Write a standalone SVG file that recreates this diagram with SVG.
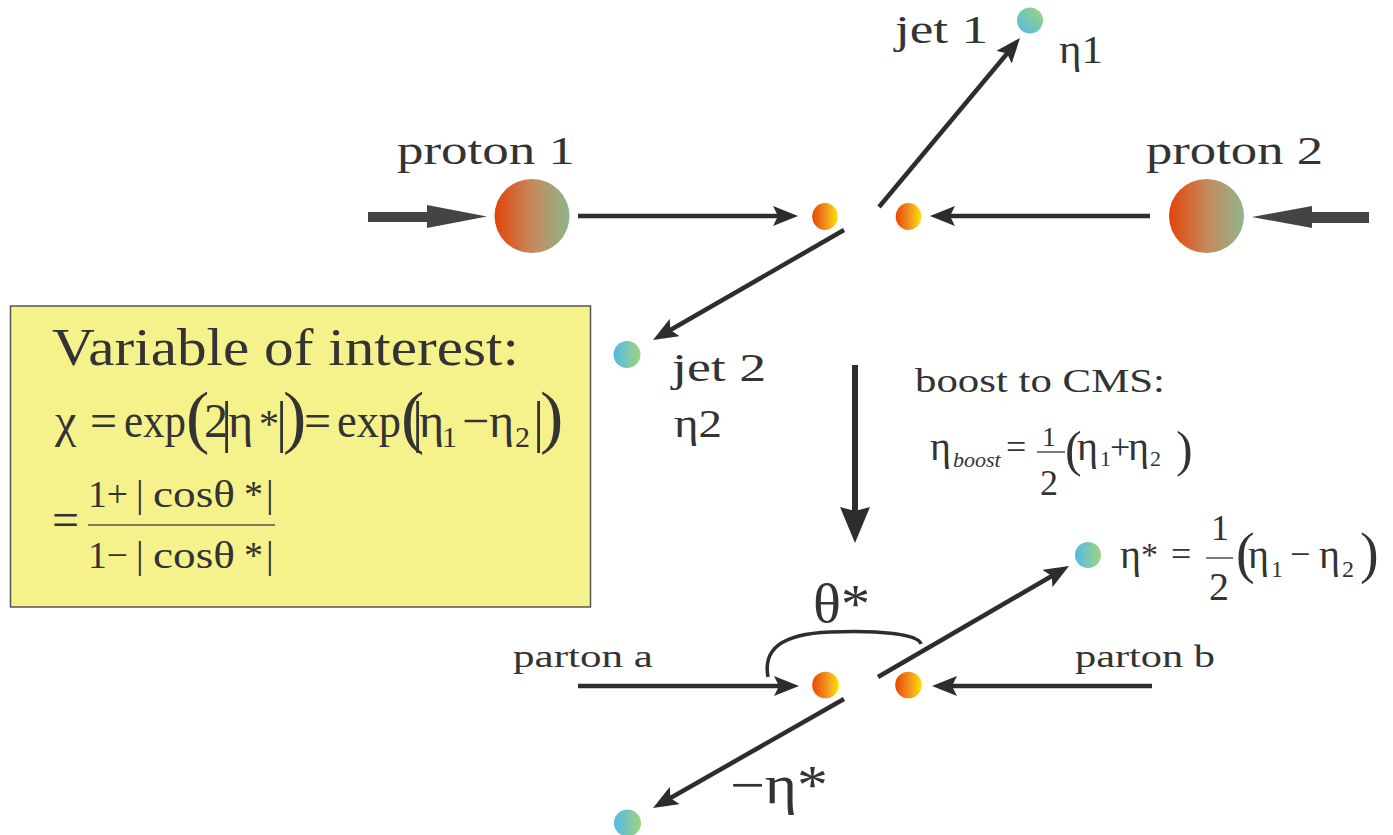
<svg xmlns="http://www.w3.org/2000/svg" width="1393" height="835" viewBox="0 0 1393 835">
<style>
text{font-family:"Liberation Serif","Times New Roman",serif;fill:#333333}
.lbl{font-size:40px}
.conn line{stroke:#2d2d2d;stroke-width:4.5;fill:none}
.m{font-size:48px}
</style>
<defs>
<linearGradient id="gProton" x1="0" y1="0" x2="1" y2="0">
<stop offset="0" stop-color="#e2440a"/><stop offset="0.5" stop-color="#c6885c"/><stop offset="1" stop-color="#8fb58c"/>
</linearGradient>
<linearGradient id="gParton" x1="0" y1="0" x2="1" y2="0">
<stop offset="0" stop-color="#e84800"/><stop offset="0.55" stop-color="#f29420"/><stop offset="1" stop-color="#fde400"/>
</linearGradient>
<linearGradient id="gJet" x1="0" y1="0" x2="1" y2="0">
<stop offset="0" stop-color="#55b8e8"/><stop offset="1" stop-color="#9cd67c"/>
</linearGradient>
<linearGradient id="gJetD" x1="0" y1="1" x2="1" y2="0">
<stop offset="0" stop-color="#55b8e8"/><stop offset="1" stop-color="#9cd67c"/>
</linearGradient>
<marker id="ah" viewBox="0 0 25 20" refX="15" refY="10" markerWidth="25" markerHeight="20" orient="auto" markerUnits="userSpaceOnUse">
<path d="M0,0 L25,10 L0,20 L5,10 Z" fill="#2d2d2d"/>
</marker>
<marker id="ahBig" viewBox="0 0 36 30" refX="22" refY="15" markerWidth="36" markerHeight="30" orient="auto" markerUnits="userSpaceOnUse">
<path d="M0,0 L36,15 L0,30 L4,15 Z" fill="#2d2d2d"/>
</marker>
</defs>

<g id="connectors" class="conn">
<polygon points="368,212 427,212 427,205 487,216.5 427,228 427,222 368,222" fill="#444444"/>
<polygon points="1369,212 1312,212 1312,206 1252,217 1312,228 1312,223 1369,223" fill="#444444"/>
<line x1="578" y1="216" x2="788" y2="216" marker-end="url(#ah)"/>
<line x1="1150" y1="216" x2="940" y2="216" marker-end="url(#ah)"/>
<line x1="879" y1="207" x2="1013.6" y2="45.7" marker-end="url(#ah)"/>
<line x1="844" y1="230" x2="661.7" y2="335" marker-end="url(#ah)"/>
<line x1="855" y1="365" x2="855" y2="529" style="stroke-width:6" marker-end="url(#ahBig)"/>
<line x1="578" y1="686" x2="789" y2="686" marker-end="url(#ah)"/>
<line x1="1152" y1="686" x2="942" y2="686" marker-end="url(#ah)"/>
<line x1="878" y1="677" x2="1060.4" y2="571" marker-end="url(#ah)"/>
<line x1="844" y1="699" x2="661.7" y2="803" marker-end="url(#ah)"/>
<path d="M768,677 C763,650 780,634 830,632 C880,630 918,634 921,644" fill="none" stroke="#2d2d2d" stroke-width="3.5"/>
</g>

<g id="proton1">
<ellipse cx="532" cy="216" rx="37.5" ry="37" fill="url(#gProton)"/>
<text class="lbl" x="397" y="164" textLength="178" lengthAdjust="spacingAndGlyphs">proton 1</text>
</g>
<g id="proton2">
<ellipse cx="1206.5" cy="216" rx="37.5" ry="37" fill="url(#gProton)"/>
<text class="lbl" x="1146" y="164" textLength="177" lengthAdjust="spacingAndGlyphs">proton 2</text>
</g>
<g id="parton-top-1"><ellipse cx="825" cy="216.5" rx="12.8" ry="13.5" fill="url(#gParton)"/></g>
<g id="parton-top-2"><ellipse cx="908.5" cy="216.5" rx="12.8" ry="13.5" fill="url(#gParton)"/></g>
<g id="jet1">
<circle cx="1030" cy="20.5" r="13" fill="url(#gJetD)"/>
<text class="lbl" x="895" y="43" textLength="93" lengthAdjust="spacingAndGlyphs">jet 1</text>
<text class="lbl" x="1059" y="63" textLength="44" lengthAdjust="spacingAndGlyphs">η1</text>
</g>
<g id="jet2">
<circle cx="627" cy="354.5" r="13.5" fill="url(#gJet)"/>
<text class="lbl" x="672" y="381" textLength="94" lengthAdjust="spacingAndGlyphs">jet 2</text>
<text class="lbl" x="674" y="437" textLength="48" lengthAdjust="spacingAndGlyphs">η2</text>
</g>

<g id="boost">
<text x="915" y="392" style="font-size:33px" textLength="250" lengthAdjust="spacingAndGlyphs">boost to CMS:</text>
<text style="font-size:40px">
<tspan x="930" y="460">η</tspan>
<tspan x="953" y="467" style="font-size:22px;font-style:italic">boost</tspan>
<tspan x="1006" y="459" style="font-size:36px">=</tspan>
<tspan x="1042" y="446" style="font-size:28px">1</tspan>
<tspan x="1040" y="495" style="font-size:36px">2</tspan>
<tspan x="1065" y="466" style="font-size:50px">(</tspan>
<tspan x="1077" y="460">η</tspan>
<tspan x="1100" y="466" style="font-size:22px">1</tspan>
<tspan x="1110" y="459" style="font-size:36px">+</tspan>
<tspan x="1128" y="460">η</tspan>
<tspan x="1150" y="466" style="font-size:22px">2</tspan>
<tspan x="1176" y="466" style="font-size:50px">)</tspan>
</text>
<line x1="1037" y1="452" x2="1065" y2="452" stroke="#333333" stroke-width="1.3"/>
</g>

<g id="formula-box">
<rect x="10.5" y="306" width="580" height="301" fill="#f5f28c" stroke="#555555" stroke-width="1.5"/>
<text x="52" y="365" style="font-size:52px" textLength="467" lengthAdjust="spacingAndGlyphs">Variable of interest:</text>
<text class="m">
<tspan x="55" y="437">χ</tspan>
<tspan x="90" y="437">=</tspan>
<tspan x="124" y="437" textLength="62" lengthAdjust="spacingAndGlyphs">exp</tspan>
<tspan x="186" y="440" style="font-size:70px">(</tspan>
<tspan x="204" y="437">2</tspan>
<tspan x="221" y="441" style="font-size:56px">|</tspan>
<tspan x="228" y="437">η</tspan>
<tspan x="259" y="437" style="font-size:40px">*</tspan>
<tspan x="276" y="441" style="font-size:56px">|</tspan>
<tspan x="283" y="440" style="font-size:70px">)</tspan>
<tspan x="304" y="437">=</tspan>
<tspan x="337" y="437" textLength="64" lengthAdjust="spacingAndGlyphs">exp</tspan>
<tspan x="401" y="440" style="font-size:70px">(</tspan>
<tspan x="412" y="441" style="font-size:56px">|</tspan>
<tspan x="419" y="437">η</tspan>
<tspan x="442" y="447" style="font-size:30px">1</tspan>
<tspan x="462" y="437">−</tspan>
<tspan x="489" y="437">η</tspan>
<tspan x="515" y="447" style="font-size:30px">2</tspan>
<tspan x="533" y="441" style="font-size:56px">|</tspan>
<tspan x="540" y="440" style="font-size:70px">)</tspan>
</text>
<text x="52" y="536" class="m">=</text>
<text style="font-size:38px">
<tspan x="88" y="507" textLength="40" lengthAdjust="spacingAndGlyphs">1+</tspan>
<tspan x="136" y="507">|</tspan>
<tspan x="153" y="507" textLength="82" lengthAdjust="spacingAndGlyphs">cosθ</tspan>
<tspan x="244" y="507">*</tspan>
<tspan x="266" y="507">|</tspan>
<tspan x="88" y="568" textLength="40" lengthAdjust="spacingAndGlyphs">1−</tspan>
<tspan x="136" y="568">|</tspan>
<tspan x="153" y="568" textLength="82" lengthAdjust="spacingAndGlyphs">cosθ</tspan>
<tspan x="244" y="568">*</tspan>
<tspan x="266" y="568">|</tspan>
</text>
<line x1="88" y1="525" x2="275" y2="525" stroke="#555555" stroke-width="1.5"/>
</g>

<g id="partonA">
<text x="513" y="667" style="font-size:31px" textLength="140" lengthAdjust="spacingAndGlyphs">parton a</text>
<circle cx="825.5" cy="685" r="13.3" fill="url(#gParton)"/>
</g>
<g id="partonB">
<text x="1075" y="667" style="font-size:31px" textLength="140" lengthAdjust="spacingAndGlyphs">parton b</text>
<circle cx="908.5" cy="685" r="13.3" fill="url(#gParton)"/>
</g>
<g id="theta">
<text x="813" y="622" style="font-size:54px" textLength="57" lengthAdjust="spacingAndGlyphs">θ*</text>
</g>
<g id="jet-star">
<circle cx="1088" cy="555" r="13" fill="url(#gJet)"/>
<text style="font-size:40px">
<tspan x="1120" y="568">η</tspan>
<tspan x="1141" y="566" style="font-size:34px">*</tspan>
<tspan x="1171" y="566" style="font-size:36px">=</tspan>
<tspan x="1211" y="540" style="font-size:36px">1</tspan>
<tspan x="1209" y="600">2</tspan>
<tspan x="1236" y="572" style="font-size:56px">(</tspan>
<tspan x="1248" y="568">η</tspan>
<tspan x="1271" y="577" style="font-size:24px">1</tspan>
<tspan x="1290" y="566" style="font-size:36px">−</tspan>
<tspan x="1319" y="568">η</tspan>
<tspan x="1342" y="577" style="font-size:24px">2</tspan>
<tspan x="1360" y="572" style="font-size:56px">)</tspan>
</text>
<line x1="1206" y1="558" x2="1233" y2="558" stroke="#333333" stroke-width="1.3"/>
</g>
<g id="jet-minus-star">
<circle cx="627.5" cy="823" r="13.5" fill="url(#gJet)"/>
<text x="730" y="803" style="font-size:54px" textLength="98" lengthAdjust="spacingAndGlyphs">−η*</text>
</g>
</svg>
